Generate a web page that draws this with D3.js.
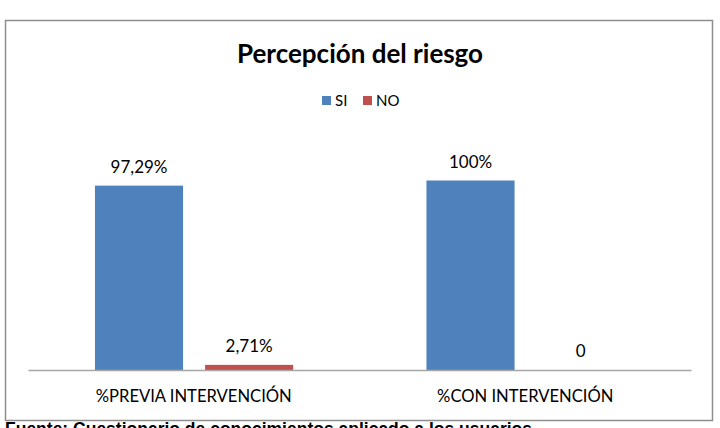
<!DOCTYPE html>
<html>
<head>
<meta charset="utf-8">
<script src="https://cdn.jsdelivr.net/npm/d3@7"></script>
<style>
  html, body { margin: 0; padding: 0; background: #fff; }
  svg { display: block; }
</style>
</head>
<body>
<svg id="chart" width="720" height="428"></svg>
<script>
const categories = ["%PREVIA INTERVENCIÓN", "%CON INTERVENCIÓN"];
const seriesNames = ["SI", "NO"];
const siValues = [97.29, 100];
const noValues = [2.71, 0];
const siLabels = ["97,29%", "100%"];
const noLabels = ["2,71%", "0"];
const colors = ["#4F81BD", "#C0504D"];
const titleText = "Percepción del riesgo";
const sourceText = "Fuente: Cuestionario de conocimientos aplicado a los usuarios";

const rows = categories.map((c, i) => ({
  category: c,
  values: [
    { series: "SI", value: siValues[i], label: siLabels[i] },
    { series: "NO", value: noValues[i], label: noLabels[i] }
  ]
}));

const svg = d3.select("#chart");
const font = "Lato, 'Open Sans', sans-serif";

// outer frame
svg.append("rect")
  .attr("x", 5.5).attr("y", 20.5)
  .attr("width", 707).attr("height", 400)
  .attr("fill", "#fff")
  .attr("stroke", "#8e8e8e")
  .attr("stroke-width", 1.5);

// title
svg.append("text")
  .attr("x", 360).attr("y", 63)
  .attr("text-anchor", "middle")
  .attr("font-family", font)
  .attr("font-weight", "bold")
  .attr("font-size", 26)
  .attr("fill", "#000")
  .text(titleText);

// legend
const legendItems = [
  { name: seriesNames[0], x: 322 },
  { name: seriesNames[1], x: 363 }
];
const lg = svg.append("g");
legendItems.forEach((d, i) => {
  lg.append("rect")
    .attr("x", d.x).attr("y", 96)
    .attr("width", 9).attr("height", 9)
    .attr("fill", colors[i]);
  lg.append("text")
    .attr("x", d.x + 13).attr("y", 106)
    .attr("font-family", font)
    .attr("font-size", 15)
    .attr("fill", "#000")
    .text(d.name);
});

// scales
const x0 = d3.scaleBand().domain(categories).range([28, 691]).paddingInner(0).paddingOuter(0);
const x1 = d3.scaleBand().domain(seriesNames)
  .range([x0.bandwidth() * 0.202, x0.bandwidth() * 0.8])
  .paddingInner(0.2).paddingOuter(0);
const y = d3.scaleLinear().domain([0, 100]).range([370, 180.5]);
const color = d3.scaleOrdinal().domain(seriesNames).range(colors);

// bars
const groups = svg.append("g").selectAll("g")
  .data(rows).join("g")
  .attr("transform", d => `translate(${x0(d.category)},0)`);

groups.selectAll("rect")
  .data(d => d.values).join("rect")
  .attr("x", d => x1(d.series))
  .attr("y", d => y(d.value))
  .attr("width", x1.bandwidth())
  .attr("height", d => y(0) - y(d.value))
  .attr("fill", d => color(d.series));

groups.selectAll("text")
  .data(d => d.values).join("text")
  .attr("x", d => x1(d.series) + x1.bandwidth() / 2)
  .attr("y", d => y(d.value) - 13)
  .attr("text-anchor", "middle")
  .attr("font-family", font)
  .attr("font-size", 17)
  .attr("fill", "#000")
  .text(d => d.label);

// x axis
const xAxis = svg.append("g")
  .attr("transform", `translate(0,${y(0)})`)
  .call(d3.axisBottom(x0).tickSize(0).tickPadding(20));
xAxis.select(".domain").attr("stroke", "#a6a6a6").attr("stroke-width", 1.5);
xAxis.selectAll("text")
  .attr("font-family", font)
  .attr("font-size", 16.6)
  .attr("fill", "#000");

// source text (partially cut off at bottom, as in the reference)
svg.append("text")
  .attr("x", 5).attr("y", 435)
  .attr("font-family", "'Liberation Sans', Arial, sans-serif")
  .attr("font-weight", "bold")
  .attr("font-size", 17.5)
  .attr("fill", "#000")
  .text(sourceText);
</script>
</body>
</html>
